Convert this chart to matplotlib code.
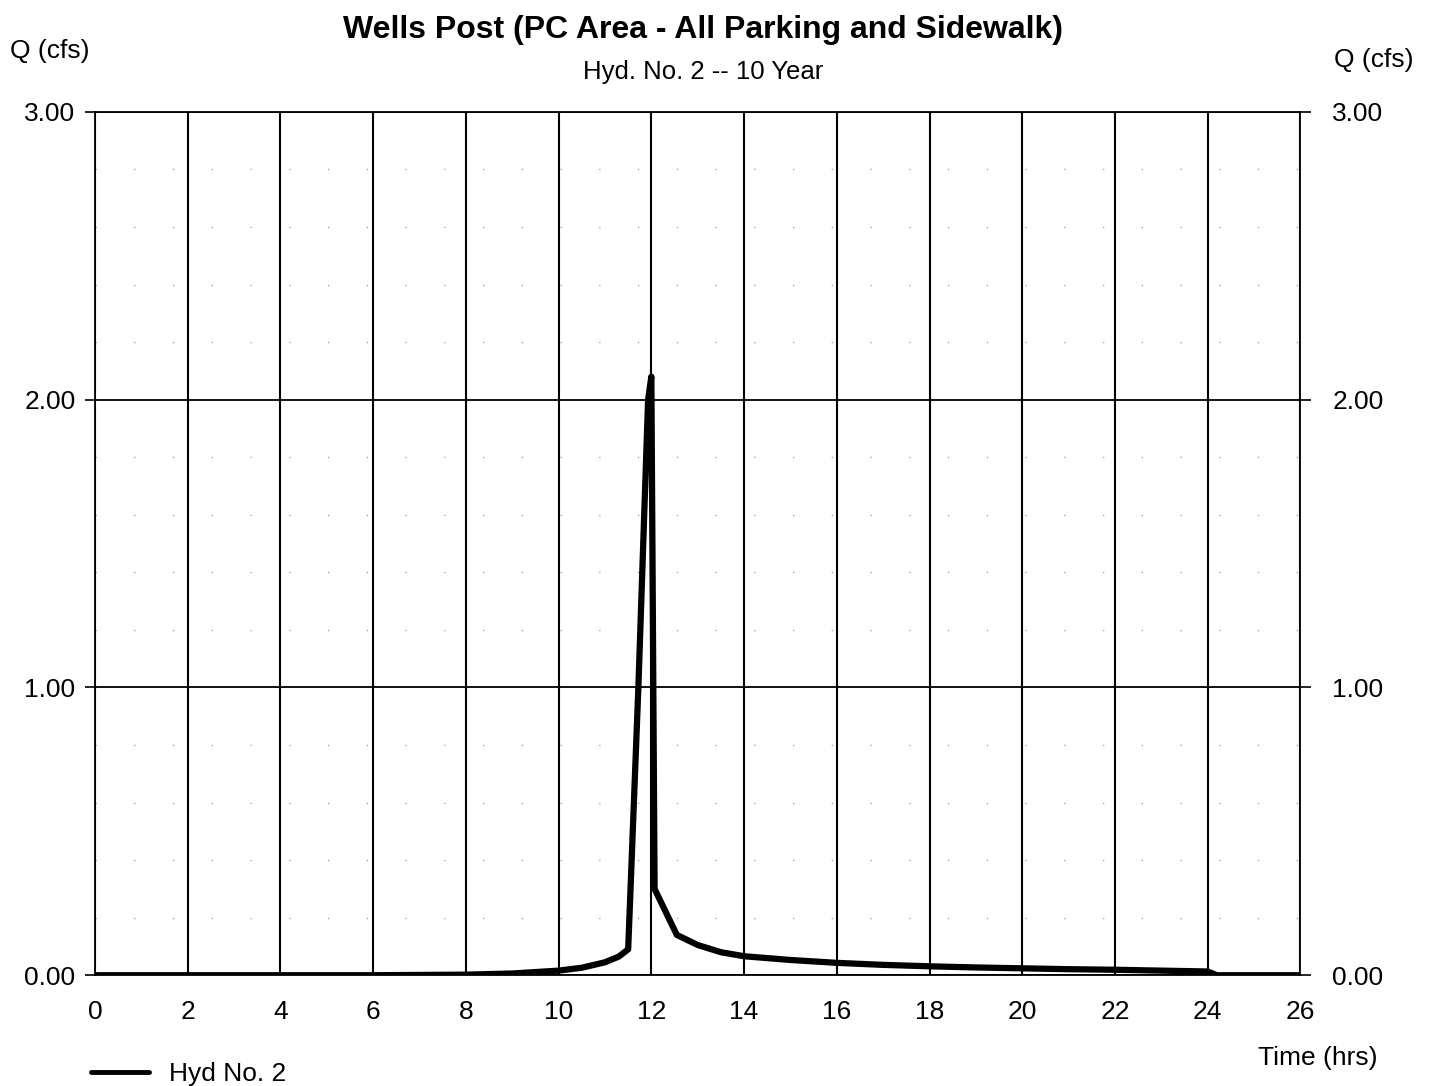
import matplotlib
matplotlib.use("Agg")
import matplotlib.pyplot as plt
import numpy as np

plt.rcParams['font.family'] = ['Liberation Sans', 'DejaVu Sans']

# hydrograph (time in hrs, flow in cfs)
hours = [0, 2, 4, 6, 8, 9, 10, 10.5, 11, 11.3, 11.5, 11.72, 11.93, 12.0,
         12.07, 12.55, 13, 13.5, 14, 15, 16, 17, 18, 19, 20, 21, 22, 23,
         24, 24.2, 25, 26]
flow = [0.0, 0.0, 0.0, 0.0, 0.002, 0.006, 0.016, 0.026, 0.045, 0.065, 0.09,
        1.0, 2.0, 2.08, 0.3, 0.14, 0.105, 0.08, 0.066, 0.053, 0.043, 0.036,
        0.031, 0.027, 0.024, 0.021, 0.019, 0.016, 0.013, 0.0, 0.0, 0.0]

x_ticks = list(range(0, 27, 2))
y_ticks = [0.0, 1.0, 2.0, 3.0]
y_minor = [0.2, 0.4, 0.6, 0.8, 1.2, 1.4, 1.6, 1.8, 2.2, 2.4, 2.6, 2.8]

title = 'Wells Post (PC Area - All Parking and Sidewalk)'
subtitle = 'Hyd. No. 2 -- 10 Year'
series_name = 'Hyd No. 2'

fig = plt.figure(figsize=(14.29, 10.86), dpi=100)
ax = fig.add_axes([0.0665, 0.102, 0.8435, 0.795])
ax.set_xlim(0, 26)
ax.set_ylim(0, 3)

for y in y_minor:
    ax.axhline(y, color='#999999', lw=0.9, ls=(0, (1, 30)), zorder=1)
for y in y_ticks:
    ax.axhline(y, color='black', lw=1.3, zorder=2)
for x in x_ticks:
    ax.axvline(x, color='black', lw=1.5, zorder=2)

line, = ax.plot(hours, flow, color='black', lw=4.5, zorder=3,
                solid_joinstyle='round', solid_capstyle='round')

for s in ax.spines.values():
    s.set_linewidth(1.3)

ax.set_xticks(x_ticks)
ax.set_xticklabels([str(x) for x in x_ticks])
ax.tick_params(axis='x', length=0, pad=18, labelsize=19)
ax.set_yticks(y_ticks)
ax.set_yticklabels(['%.2f' % y for y in y_ticks])
ax.tick_params(axis='y', direction='out', length=7, width=1.2, pad=7, labelsize=19)

ax2 = ax.twinx()
ax2.set_ylim(0, 3)
ax2.set_yticks(y_ticks)
ax2.set_yticklabels(['%.2f' % y for y in y_ticks])
ax2.tick_params(axis='y', direction='out', length=8, width=1.2, pad=15, labelsize=19)
for s in ax2.spines.values():
    s.set_visible(False)

fig.text(0.492, 0.972, title, ha='center', va='center', fontsize=23, fontweight='bold')
fig.text(0.492, 0.934, subtitle, ha='center', va='center', fontsize=18.5)
fig.text(0.035, 0.953, 'Q (cfs)', ha='center', va='center', fontsize=19)
fig.text(0.961, 0.945, 'Q (cfs)', ha='center', va='center', fontsize=19)
fig.text(0.922, 0.026, 'Time (hrs)', ha='center', va='center', fontsize=19)

leg = fig.legend([line], [series_name], loc='lower left', bbox_to_anchor=(0.047, -0.022),
                 frameon=False, fontsize=19, handlelength=2.2, handletextpad=0.75)
for h in leg.legend_handles:
    h.set_linewidth(3.5)

fig.savefig('out.png', dpi=100)
